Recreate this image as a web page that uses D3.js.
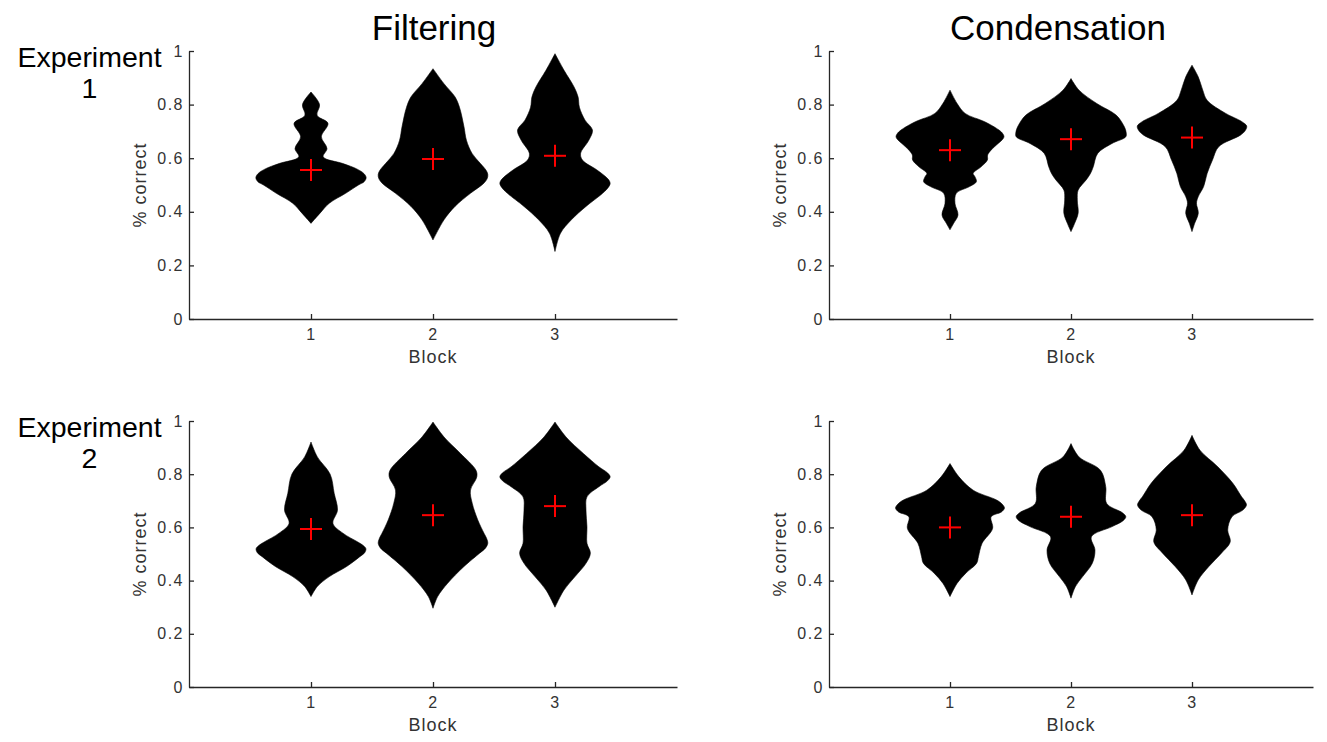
<!DOCTYPE html>
<html><head><meta charset="utf-8">
<script src="https://cdn.jsdelivr.net/npm/d3@7"></script>
<style>html,body{margin:0;padding:0;background:#fff;} svg{display:block;}</style>
</head><body>
<svg id="chart" width="1327" height="742"></svg>
<script>
// ---------------- data ----------------
const blocks = [1, 2, 3];
const blockTickLabels = ["1", "2", "3"];
const yTicks = [0, 0.2, 0.4, 0.6, 0.8, 1];
const yTickLabels = ["0", "0.2", "0.4", "0.6", "0.8", "1"];
const conditions = ["Filtering", "Condensation"];
const experimentNames = ["Experiment", "Experiment"];
const experimentNumbers = ["1", "2"];
const xLabel = "Block";
const yLabel = "% correct";

// mean (% correct) per block, shown as red crosses
const meansFilteringExp1 = [0.556, 0.597, 0.609];
const meansCondensationExp1 = [0.630, 0.671, 0.677];
const meansFilteringExp2 = [0.594, 0.646, 0.680];
const meansCondensationExp2 = [0.600, 0.640, 0.646];

// violin profiles: [value, half-width in block units]
const violinsFilteringExp1 = [
  [[0.357,0],[0.395,0.074],[0.432,0.15],[0.469,0.284],[0.5,0.389],[0.512,0.435],[0.527,0.452],[0.542,0.435],[0.56,0.375],[0.58,0.262],[0.605,0.1],[0.636,0.131],[0.68,0.085],[0.73,0.139],[0.76,0.05],[0.80,0.07],[0.847,0]],
  [[0.295,0],[0.37,0.09],[0.42,0.18],[0.469,0.307],[0.506,0.415],[0.525,0.445],[0.54,0.449],[0.555,0.435],[0.58,0.389],[0.618,0.32],[0.667,0.274],[0.717,0.254],[0.79,0.217],[0.829,0.18],[0.878,0.09],[0.934,0]],
  [[0.252,0],[0.32,0.045],[0.37,0.134],[0.42,0.254],[0.469,0.39],[0.49,0.435],[0.506,0.452],[0.522,0.435],[0.556,0.344],[0.593,0.225],[0.618,0.21],[0.667,0.277],[0.705,0.307],[0.742,0.246],[0.79,0.2],[0.829,0.189],[0.866,0.156],[0.928,0.074],[0.99,0]]
];
const violinsCondensationExp1 = [
  [[0.333,0],[0.357,0.03],[0.388,0.066],[0.432,0.041],[0.469,0.052],[0.494,0.161],[0.512,0.218],[0.531,0.206],[0.543,0.191],[0.568,0.257],[0.593,0.309],[0.612,0.311],[0.63,0.339],[0.655,0.398],[0.668,0.43],[0.68,0.446],[0.692,0.435],[0.705,0.405],[0.736,0.287],[0.767,0.125],[0.804,0.059],[0.854,0]],
  [[0.326,0],[0.357,0.03],[0.395,0.059],[0.444,0.052],[0.481,0.059],[0.519,0.125],[0.543,0.161],[0.568,0.184],[0.618,0.221],[0.655,0.339],[0.68,0.453],[0.698,0.455],[0.717,0.441],[0.76,0.375],[0.804,0.213],[0.854,0.066],[0.897,0]],
  [[0.326,0],[0.357,0.022],[0.395,0.052],[0.432,0.037],[0.457,0.052],[0.494,0.096],[0.543,0.125],[0.593,0.169],[0.643,0.221],[0.686,0.40],[0.703,0.44],[0.72,0.452],[0.737,0.41],[0.767,0.279],[0.816,0.125],[0.854,0.089],[0.903,0.052],[0.947,0]]
];
const violinsFilteringExp2 = [
  [[0.34,0],[0.378,0.052],[0.415,0.15],[0.453,0.292],[0.49,0.40],[0.505,0.44],[0.52,0.45],[0.533,0.425],[0.546,0.38],[0.578,0.262],[0.615,0.18],[0.665,0.217],[0.728,0.19],[0.8,0.157],[0.865,0.052],[0.921,0]],
  [[0.296,0],[0.34,0.038],[0.39,0.12],[0.453,0.254],[0.503,0.382],[0.522,0.43],[0.54,0.449],[0.558,0.44],[0.578,0.418],[0.628,0.367],[0.69,0.322],[0.74,0.307],[0.79,0.359],[0.815,0.352],[0.878,0.225],[0.94,0.09],[0.996,0]],
  [[0.3,0],[0.365,0.074],[0.415,0.164],[0.465,0.254],[0.503,0.29],[0.54,0.262],[0.603,0.262],[0.665,0.254],[0.715,0.262],[0.753,0.36],[0.775,0.43],[0.79,0.452],[0.805,0.43],[0.828,0.359],[0.878,0.232],[0.94,0.09],[0.996,0]]
];
const violinsCondensationExp2 = [
  [[0.34,0],[0.39,0.059],[0.428,0.131],[0.465,0.22],[0.49,0.235],[0.54,0.265],[0.596,0.352],[0.64,0.34],[0.658,0.425],[0.673,0.45],[0.688,0.43],[0.703,0.385],[0.74,0.191],[0.79,0.074],[0.84,0]],
  [[0.334,0],[0.378,0.037],[0.415,0.096],[0.465,0.176],[0.515,0.198],[0.565,0.169],[0.603,0.34],[0.625,0.43],[0.64,0.453],[0.655,0.425],[0.69,0.295],[0.753,0.287],[0.815,0.243],[0.865,0.066],[0.915,0]],
  [[0.346,0],[0.403,0.052],[0.453,0.139],[0.503,0.243],[0.546,0.316],[0.59,0.295],[0.64,0.33],[0.665,0.42],[0.684,0.45],[0.7,0.435],[0.715,0.41],[0.765,0.339],[0.828,0.213],[0.89,0.066],[0.946,0]]
];

// ---------------- drawing ----------------
const FONT = "'Liberation Sans', Arial, Helvetica, sans-serif";
const AXIS_COLOR = "#262626";
const svg = d3.select("#chart");

const panels = [
  {col: 0, row: 0, x0: 189, x1: 677, y0: 319, y1: 51, violins: violinsFilteringExp1, means: meansFilteringExp1},
  {col: 1, row: 0, x0: 829, x1: 1313, y0: 319, y1: 51, violins: violinsCondensationExp1, means: meansCondensationExp1},
  {col: 0, row: 1, x0: 189, x1: 677, y0: 687, y1: 421, violins: violinsFilteringExp2, means: meansFilteringExp2},
  {col: 1, row: 1, x0: 829, x1: 1313, y0: 687, y1: 421, violins: violinsCondensationExp2, means: meansCondensationExp2}
];

panels.forEach(p => {
  const x = d3.scaleLinear().domain([0, 4]).range([p.x0, p.x1]);
  const y = d3.scaleLinear().domain([0, 1]).range([p.y0, p.y1]);
  const g = svg.append("g");

  // violins
  p.violins.forEach((prof, i) => {
    const c = blocks[i];
    const area = d3.area()
      .y(d => y(d[0]))
      .x0(d => x(c - d[1]))
      .x1(d => x(c + d[1]))
      .curve(d3.curveCatmullRom.alpha(0.5));
    g.append("path").datum(prof).attr("d", area).attr("fill", "#000").attr("stroke", "#000").attr("stroke-width", 0.6);
  });

  // mean crosses
  const arm = 11;
  p.means.forEach((m, i) => {
    const cx = x(blocks[i]), cy = y(m);
    g.append("line").attr("x1", cx - arm).attr("x2", cx + arm).attr("y1", cy).attr("y2", cy)
      .attr("stroke", "#f00").attr("stroke-width", 2);
    g.append("line").attr("x1", cx).attr("x2", cx).attr("y1", cy - arm).attr("y2", cy + arm)
      .attr("stroke", "#f00").attr("stroke-width", 2);
  });

  // x axis
  const xa = g.append("g").attr("transform", `translate(0,${p.y0})`)
    .call(d3.axisBottom(x).tickValues(blocks).tickFormat((d, i) => blockTickLabels[i])
      .tickSizeInner(-5).tickSizeOuter(0).tickPadding(10));
  // y axis
  const ya = g.append("g").attr("transform", `translate(${p.x0},0)`)
    .call(d3.axisLeft(y).tickValues(yTicks).tickFormat((d, i) => yTickLabels[i])
      .tickSizeInner(-5).tickSizeOuter(0).tickPadding(5));

  [xa, ya].forEach(a => {
    a.selectAll(".domain").attr("stroke", AXIS_COLOR).attr("stroke-width", 1.3);
    a.selectAll(".tick line").attr("stroke", AXIS_COLOR).attr("stroke-width", 1.3);
    a.selectAll("text").attr("fill", "#333").style("font-family", FONT).style("font-size", "16px")
      .style("letter-spacing", "1.5px");
  });

  // axis labels
  g.append("text").attr("x", x(2)).attr("y", p.y0 + 44)
    .attr("text-anchor", "middle").attr("fill", "#333")
    .style("font-family", FONT).style("font-size", "18px").style("letter-spacing", "1px")
    .text(xLabel);
  g.append("text").attr("transform", `translate(${p.x0 - 43},${(p.y0 + p.y1) / 2}) rotate(-90)`)
    .attr("text-anchor", "middle").attr("fill", "#333")
    .style("font-family", FONT).style("font-size", "18px").style("letter-spacing", "1px")
    .text(yLabel);

  // column titles
  if (p.row === 0) {
    const tx = p.col === 0 ? x(2) + 1 : x(2) - 13;
    g.append("text").attr("x", tx).attr("y", 40).attr("text-anchor", "middle").attr("fill", "#000")
      .style("font-family", FONT).style("font-size", "35px").text(conditions[p.col]);
  }
  // row labels
  if (p.col === 0) {
    const base = p.y1 + 16;
    const t = g.append("text").attr("text-anchor", "middle").attr("fill", "#000")
      .style("font-family", FONT).style("font-size", "28.5px");
    t.append("tspan").attr("x", 89.5).attr("y", base).text(experimentNames[p.row]);
    t.append("tspan").attr("x", 89.5).attr("y", base + 31).text(experimentNumbers[p.row]);
  }
});
</script>
</body></html>
